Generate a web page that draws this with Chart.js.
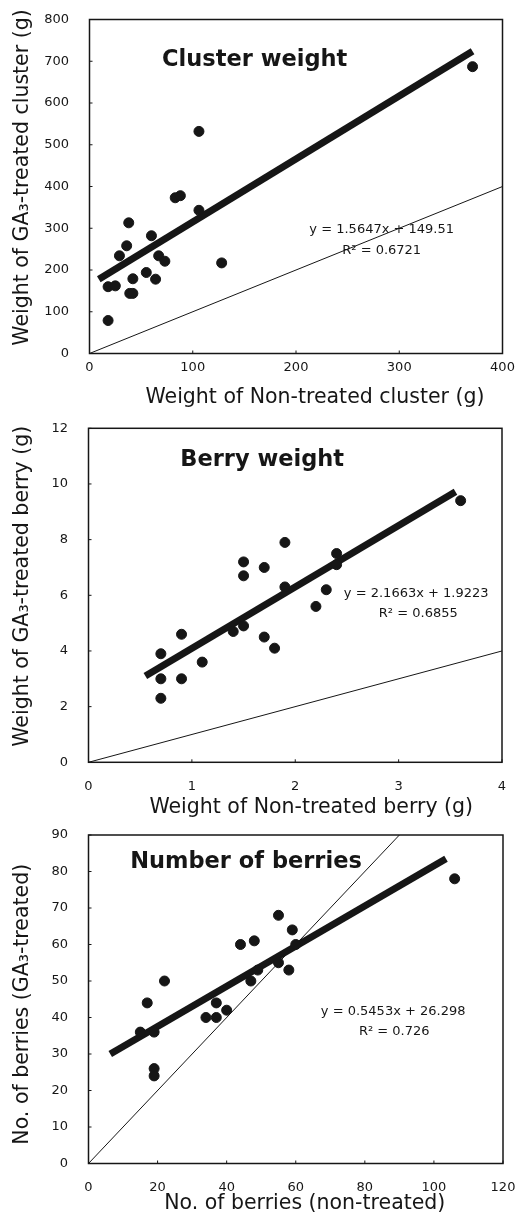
<!DOCTYPE html>
<html lang="en">
<head>
<meta charset="UTF-8">
<title>GA3 treatment: cluster weight, berry weight, berry number</title>
<script src="https://cdn.jsdelivr.net/npm/chart.js"></script>
<style>
  html, body { margin: 0; padding: 0; background: #fff; }
  canvas { position: absolute; left: 0; }
  #c1 { top: 0; }
  #c2 { top: 412px; }
  #c3 { top: 820px; }
</style>
</head>
<body>
<canvas id="c1" width="516" height="412"></canvas>
<canvas id="c2" width="516" height="408"></canvas>
<canvas id="c3" width="516" height="400"></canvas>

<script>
// --- cluster weight (g): non-treated vs GA3-treated
const clusterX = [18, 18, 25, 29, 36, 38, 39, 42, 42, 55, 60, 64, 67, 73, 83, 88, 106, 106, 128, 371];
const clusterY = [79, 160, 162, 234, 258, 313, 144, 144, 179, 194, 282, 178, 234, 221, 373, 378, 532, 343, 217, 687];
const clusterFitX = [9, 371];
const clusterFitY = [178, 724];
const clusterUnity = [0, 400];

// --- berry weight (g)
const berryX = [0.7, 0.7, 0.7, 0.9, 0.9, 1.1, 1.4, 1.5, 1.5, 1.5, 1.7, 1.7, 1.8, 1.9, 1.9, 2.2, 2.3, 2.4, 2.4, 3.6];
const berryY = [3.9, 3.0, 2.3, 4.6, 3.0, 3.6, 4.7, 7.2, 6.7, 4.9, 7.0, 4.5, 4.1, 7.9, 6.3, 5.6, 6.2, 7.5, 7.1, 9.4];
const berryFitX = [0.55, 3.55];
const berryFitY = [3.1, 9.72];
const berryUnity = [0, 4];

// --- number of berries
const countX = [15, 17, 19, 19, 19, 22, 34, 37, 37, 40, 44, 47, 48, 49, 55, 55, 58, 59, 60, 106];
const countY = [36, 44, 36, 26, 24, 50, 40, 40, 44, 42, 60, 50, 61, 53, 68, 55, 53, 64, 60, 78];
const countFitX = [6.3, 103.5];
const countFitY = [30, 83.5];
const countUnity = [0, 120];

const INK = '#161616';
const FONT = '"DejaVu Sans", sans-serif';

function pts(xs, ys) {
  return xs.map((v, i) => ({ x: v, y: ys[i] }));
}

// frame, inward tick marks, in-plot text and axis titles
const annotatePlugin = {
  id: 'annotate',
  afterDraw(chart, args, opts) {
    const { ctx, chartArea: a, scales: { x, y } } = chart;
    ctx.save();
    ctx.strokeStyle = INK;
    ctx.lineWidth = 1.5;
    ctx.strokeRect(a.left, a.top, a.right - a.left, a.bottom - a.top);

    ctx.lineWidth = 1;
    ctx.beginPath();
    x.ticks.forEach((t, i) => {
      const px = x.getPixelForTick(i);
      ctx.moveTo(px, a.bottom);
      ctx.lineTo(px, a.bottom - 3);
    });
    y.ticks.forEach((t, i) => {
      const py = y.getPixelForTick(i);
      ctx.moveTo(a.left, py);
      ctx.lineTo(a.left + 3, py);
    });
    ctx.stroke();

    ctx.fillStyle = INK;
    ctx.textAlign = 'center';
    ctx.textBaseline = 'middle';
    opts.labels.forEach(l => {
      ctx.font = l.font;
      ctx.fillText(l.text, x.getPixelForValue(l.x), y.getPixelForValue(l.y));
    });

    ctx.font = opts.titleFont;
    ctx.fillText(opts.xTitle, (a.left + a.right) / 2 + opts.xTitleShift, a.bottom + opts.xTitleGap);
    ctx.translate(23, (a.top + a.bottom) / 2 + opts.yTitleShift);
    ctx.rotate(-Math.PI / 2);
    ctx.fillText(opts.yTitle, 0, 0);
    ctx.restore();
  }
};

function makeChart(id, cfg) {
  const H = document.getElementById(id).height;
  return new Chart(document.getElementById(id), {
    type: 'scatter',
    data: {
      datasets: [
        { data: pts(cfg.px, cfg.py), backgroundColor: INK, borderColor: INK, pointRadius: 5, pointHoverRadius: 5 },
        { data: pts(cfg.fitX, cfg.fitY), showLine: true, borderColor: INK, borderWidth: 7, pointRadius: 0 },
        { data: pts(cfg.unity, cfg.unity), showLine: true, borderColor: INK, borderWidth: 1, pointRadius: 0, clip: 0 }
      ]
    },
    options: {
      responsive: false,
      animation: false,
      events: [],
      layout: { padding: { left: 0, top: cfg.area.top, right: 516 - cfg.area.right, bottom: 0 } },
      plugins: {
        legend: { display: false },
        tooltip: { enabled: false },
        annotate: cfg.text
      },
      scales: {
        x: {
          type: 'linear', min: cfg.xMin, max: cfg.xMax,
          grid: { display: false }, border: { display: false },
          ticks: { stepSize: cfg.xStep, maxRotation: 0, autoSkip: false, padding: cfg.xPad, color: INK, font: { family: FONT, size: 13 } },
          afterFit: s => { s.height = H - cfg.area.bottom; s.paddingLeft = 0; s.paddingRight = 0; }
        },
        y: {
          min: cfg.yMin, max: cfg.yMax,
          grid: { display: false }, border: { display: false },
          ticks: { stepSize: cfg.yStep, autoSkip: false, padding: 12.5, color: INK, font: { family: FONT, size: 13 } },
          afterFit: s => { s.width = cfg.area.left; s.paddingTop = 0; s.paddingBottom = 0; }
        }
      }
    },
    plugins: [annotatePlugin]
  });
}

const titleFont = 'bold 22.5px ' + FONT;
const eqFont = '13px ' + FONT;
const axisFont = '20.5px ' + FONT;

makeChart('c1', {
  px: clusterX, py: clusterY, fitX: clusterFitX, fitY: clusterFitY, unity: clusterUnity,
  xMin: 0, xMax: 400, xStep: 100, yMin: 0, yMax: 800, yStep: 100, xPad: -2,
  area: { left: 89.5, top: 19.5, right: 502.5, bottom: 353.5 },
  text: {
    labels: [
      { text: 'Cluster weight', x: 160, y: 703, font: titleFont },
      { text: 'y = 1.5647x + 149.51', x: 283, y: 296, font: eqFont },
      { text: 'R² = 0.6721', x: 283, y: 245.5, font: eqFont }
    ],
    titleFont: axisFont,
    xTitle: 'Weight of Non-treated cluster (g)', xTitleShift: 19, xTitleGap: 44.5,
    yTitle: 'Weight of GA₃-treated cluster (g)', yTitleShift: -9
  }
});

makeChart('c2', {
  px: berryX, py: berryY, fitX: berryFitX, fitY: berryFitY, unity: berryUnity,
  xMin: 0, xMax: 4, xStep: 1, yMin: 0, yMax: 12, yStep: 2, xPad: 8.5,
  area: { left: 88.5, top: 16.3, right: 502, bottom: 350.3 },
  text: {
    labels: [
      { text: 'Berry weight', x: 1.68, y: 10.86, font: titleFont },
      { text: 'y = 2.1663x + 1.9223', x: 3.17, y: 6.05, font: eqFont },
      { text: 'R² = 0.6855', x: 3.19, y: 5.33, font: eqFont }
    ],
    titleFont: axisFont,
    xTitle: 'Weight of Non-treated berry (g)', xTitleShift: 16, xTitleGap: 45.7,
    yTitle: 'Weight of GA₃-treated berry (g)', yTitleShift: -9
  }
});

makeChart('c3', {
  px: countX, py: countY, fitX: countFitX, fitY: countFitY, unity: countUnity,
  xMin: 0, xMax: 120, xStep: 20, yMin: 0, yMax: 90, yStep: 10, xPad: 8.5,
  area: { left: 88.5, top: 15, right: 503, bottom: 343.5 },
  text: {
    labels: [
      { text: 'Number of berries', x: 45.6, y: 82.6, font: titleFont },
      { text: 'y = 0.5453x + 26.298', x: 88.2, y: 41.5, font: eqFont },
      { text: 'R² = 0.726', x: 88.5, y: 36.0, font: eqFont }
    ],
    titleFont: axisFont,
    xTitle: 'No. of berries (non-treated)', xTitleShift: 9, xTitleGap: 40.5,
    yTitle: 'No. of berries (GA₃-treated)', yTitleShift: 5
  }
});
</script>
</body>
</html>
